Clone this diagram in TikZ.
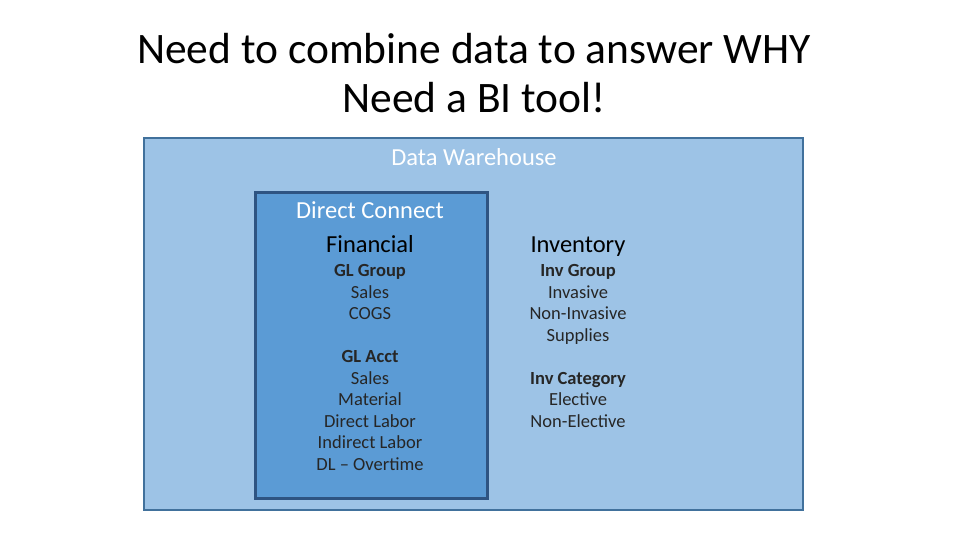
\documentclass[tikz,border=0pt]{standalone}
\usepackage{fontspec}
\setmainfont{Carlito}
\begin{document}
\begin{tikzpicture}[x=1pt,y=-1pt,
  lst/.style={align=center,font=\fontsize{18.5}{21.5}\selectfont,text=black!85,anchor=north},
  hdr/.style={font=\fontsize{24.5}{28}\selectfont,text=black,anchor=base}]
\useasboundingbox (0,0) rectangle (960,540);
\node[font=\fontsize{43.5}{49}\selectfont,align=center] (title) at (474,73) {Need to combine data to answer WHY\\Need a BI tool!};
\draw[fill={rgb,255:red,157;green,195;blue,230},draw={rgb,255:red,65;green,113;blue,156},line width=1.5pt] (144,138) rectangle (803,510);
\draw[fill={rgb,255:red,91;green,155;blue,213},draw={rgb,255:red,46;green,84;blue,130},line width=3pt] (255,192) rectangle (487,498);
\node[text=white,font=\fontsize{24.5}{28}\selectfont] (dw) at (474,157) {Data Warehouse};
\node[text=white,font=\fontsize{24.5}{28}\selectfont] (dc) at (370,210) {Direct Connect};
\node[hdr] (fin) at (370,252) {Financial};
\node[hdr] (inv) at (578,252) {Inventory};
\node[lst] (gl) at (370,261) {\textbf{GL Group}\\Sales\\COGS\\[21.5pt]\textbf{GL Acct}\\Sales\\Material\\Direct Labor\\Indirect Labor\\DL – Overtime};
\node[lst] (ig) at (578,261) {\textbf{Inv Group}\\Invasive\\Non-Invasive\\Supplies\\[21.5pt]\textbf{Inv Category}\\Elective\\Non-Elective};
\end{tikzpicture}
\end{document}
